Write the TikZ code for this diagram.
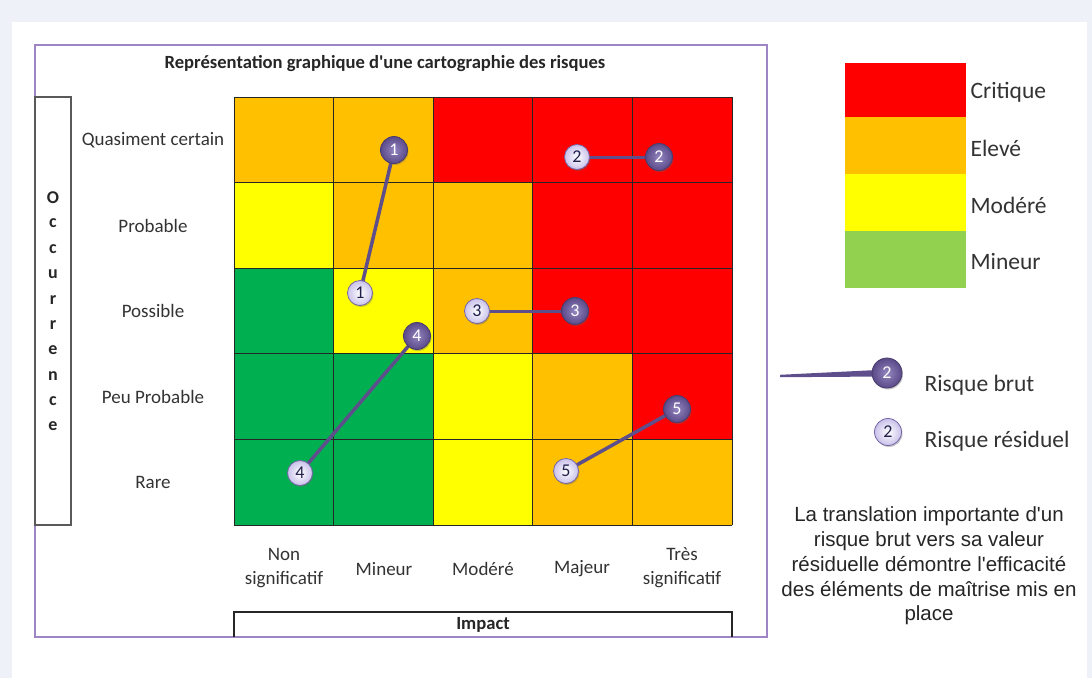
\documentclass[tikz,border=0pt]{standalone}
\usepackage{fontspec}
\setmainfont{Carlito}[Ligatures=TeXOff]
\newfontfamily\arialf{Liberation Sans}
\usetikzlibrary{shadows}
\definecolor{pagebg}{HTML}{EEF1F8}
\definecolor{framecol}{HTML}{9E86C6}
\definecolor{cRed}{HTML}{FF0000}
\definecolor{cOra}{HTML}{FFC000}
\definecolor{cYel}{HTML}{FFFF00}
\definecolor{cGrn}{HTML}{00B050}
\definecolor{cLgrn}{HTML}{92D050}
\definecolor{txt}{HTML}{333333}
\definecolor{linkcol}{HTML}{5E4F8C}
\definecolor{brutin}{HTML}{9486C0}
\definecolor{brutout}{HTML}{5A4A88}
\definecolor{residout}{HTML}{C9C1EA}
\definecolor{residedge}{HTML}{7466A6}
\definecolor{navy}{HTML}{1F1F4A}
\pgfdeclarelayer{bg}
\pgfdeclarelayer{lines}
\pgfsetlayers{bg,lines,main}
\tikzset{
  lbl/.style={text=txt, font=\fontsize{19}{24}\selectfont, align=center},
  bshadow/.style={drop shadow={opacity=0.35, shadow xshift=1pt, shadow yshift=-1.5pt, fill=black!60}},
  brut/.style={circle, minimum size=27pt, inner sep=0pt, draw=brutout!80!black, line width=0.8pt,
    inner color=brutin, outer color=brutout, text=white, font=\fontsize{18}{18}\selectfont, bshadow},
  resid/.style={circle, minimum size=25pt, inner sep=0pt, draw=residedge, line width=0.8pt,
    inner color=white, outer color=residout, text=navy, font=\fontsize{18}{18}\selectfont, bshadow},
  link/.style={draw=linkcol, line width=3.5pt, line cap=round},
  gridline/.style={draw=black!85, line width=1pt},
  legtxt/.style={anchor=west, text=txt, font=\fontsize{23.5}{26}\selectfont},
}
\begin{document}
\begin{tikzpicture}[x=1pt,y=-1pt]
\useasboundingbox (0,0) rectangle (1092,678);
\begin{pgfonlayer}{bg}
\fill[pagebg] (0,0) rectangle (1092,678);
\fill[white] (12,22) rectangle (1087,678);
% grid cells
\def\cw{99.6}\def\rh{85.6}
\foreach \row/\cols in {0/{cOra,cOra,cRed,cRed,cRed},1/{cYel,cOra,cOra,cRed,cRed},2/{cGrn,cYel,cOra,cRed,cRed},3/{cGrn,cGrn,cYel,cOra,cRed},4/{cGrn,cGrn,cYel,cOra,cOra}}{
  \foreach \c [count=\i from 0] in \cols {
    \fill[\c] (234+\i*\cw, 97+\row*\rh) rectangle (234+\i*\cw+\cw, 97+\row*\rh+\rh);
  }
}
\foreach \i in {0,...,5} {
  \draw[gridline] (234+\i*\cw, 97) -- (234+\i*\cw, 525);
  \draw[gridline] (234, 97+\i*\rh) -- (732, 97+\i*\rh);
}
% frames
\draw[framecol, line width=1.6pt] (35,45) rectangle (767,637);
\draw[black!65, line width=1.2pt] (35,97) rectangle (71,525);
\draw[black!85, line width=1.2pt] (234,637) -- (234,612) -- (732,612) -- (732,637);
% legend colour boxes
\fill[cRed] (845,63) rectangle (966,117);
\fill[cOra] (845,117) rectangle (966,174);
\fill[cYel] (845,174) rectangle (966,231);
\fill[cLgrn] (845,231) rectangle (966,288);
\end{pgfonlayer}

% title
\node[font=\bfseries\fontsize{18.6}{22}\selectfont, text=black!85] (title) at (385,64) {Représentation graphique d'une cartographie des risques};

% occurrence letters
\foreach \l [count=\k from 0] in {O,c,c,u,r,r,e,n,c,e} {
  \node[font=\bfseries\fontsize{18}{18}\selectfont, text=black!85] (occ\k) at (53,198+\k*25.4) {\l};
}

% row labels
\node[lbl] (r1) at (153,140) {Quasiment certain};
\node[lbl] (r2) at (153,226) {Probable};
\node[lbl] (r3) at (153,311) {Possible};
\node[lbl] (r4) at (153,397) {Peu Probable};
\node[lbl] (r5) at (153,482) {Rare};

% column labels
\node[lbl] (c1) at (284,568) {Non\\significatif};
\node[lbl] (c2) at (384,569) {Mineur};
\node[lbl] (c3) at (483,569) {Modéré};
\node[lbl] (c4) at (582,569) {Majeur};
\node[lbl] (c5) at (682,568) {Très\\significatif};
\node[font=\bfseries\fontsize{18.6}{22}\selectfont, text=black!85] (impact) at (483,625) {Impact};

% bubbles
\node[brut] (b1) at (394,150) {1};
\node[resid] (s1) at (360,293) {1};
\node[brut] (b2) at (659,157) {2};
\node[resid] (s2) at (577,157) {2};
\node[brut] (b3) at (575,311) {3};
\node[resid] (s3) at (477,311) {3};
\node[brut] (b4) at (417,336) {4};
\node[resid] (s4) at (300,473) {4};
\node[brut] (b5) at (677,409) {5};
\node[resid] (s5) at (566,471) {5};

\begin{pgfonlayer}{lines}
\draw[link] (b1) -- (s1);
\draw[link, line width=3pt] (b2) -- (s2);
\draw[link, line width=3pt] (b3) -- (s3);
\draw[link] (b4) -- (s4);
\draw[link] (b5) -- (s5);
\end{pgfonlayer}

% legend
\node[legtxt] (lc) at (967,92) {Critique};
\node[legtxt] (le) at (967,148) {Elevé};
\node[legtxt] (lm) at (967,205) {Modéré};
\node[legtxt] (ln) at (967,261) {Mineur};

\node[brut, minimum size=30pt] (lb) at (887,373) {2};
\node[resid, minimum size=27pt] (lr) at (888,432) {2};
\coordinate (lgs) at (780,376);
\begin{pgfonlayer}{lines}
\fill[linkcol] ([yshift=1.2pt]lgs) -- ([yshift=-1.2pt]lgs) -- ([yshift=-3.5pt]lb.center) -- ([yshift=3.5pt]lb.center) -- cycle;
\end{pgfonlayer}
\node[legtxt] (lbt) at (921,385) {Risque brut};
\node[legtxt] (lrt) at (921,441) {Risque résiduel};

% explanation
\node[font=\arialf\fontsize{20.5}{24.7}\selectfont, text=black!85, align=center] (expl) at (929,566)
  {La translation importante d'un\\risque brut vers sa valeur\\résiduelle démontre l'efficacité\\des éléments de maîtrise mis en\\place};
\end{tikzpicture}
\end{document}
